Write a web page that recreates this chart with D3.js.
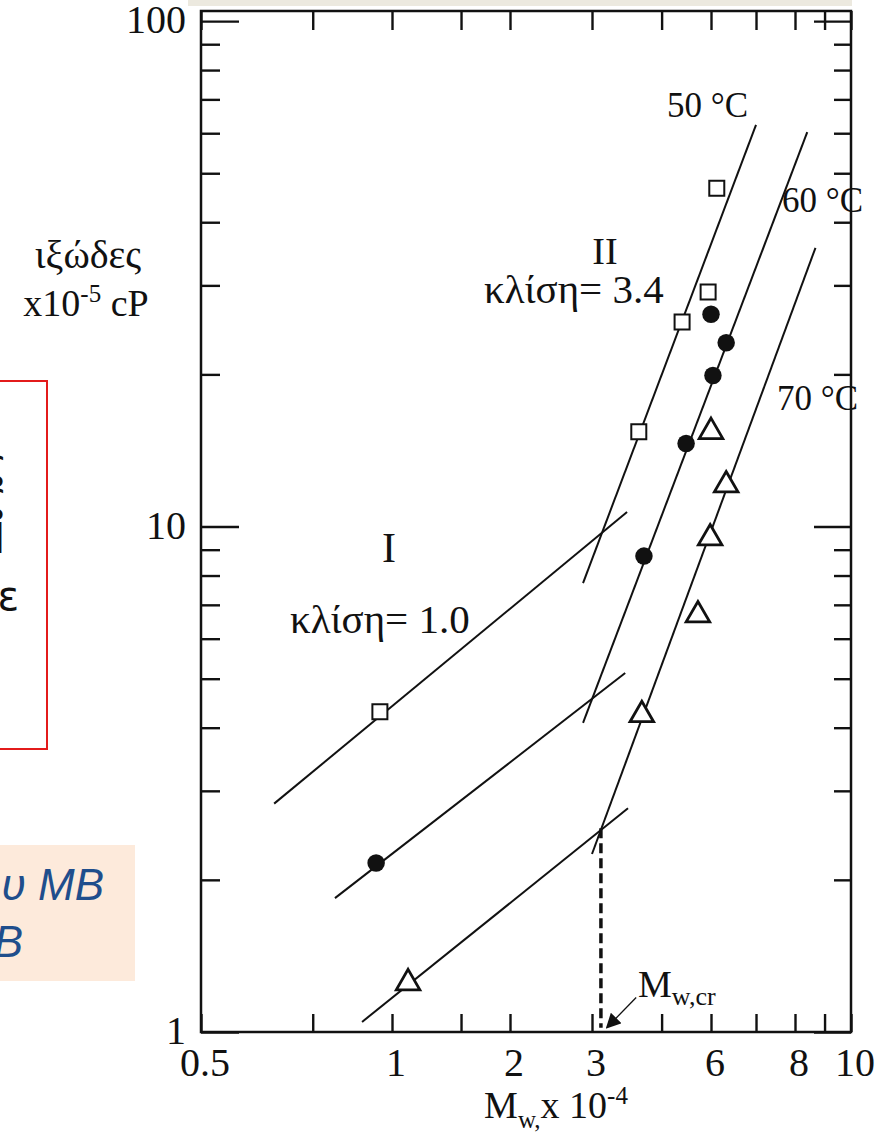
<!DOCTYPE html>
<html>
<head>
<meta charset="utf-8">
<script src="https://cdn.jsdelivr.net/npm/d3@7"></script>
<style>
body { margin: 0; background: #fff; }
svg { display: block; }
.serif { font-family: "Liberation Serif", "Times New Roman", serif; fill: #111; }
</style>
</head>
<body>
<svg id="vis" width="885" height="1138"></svg>
<script>
const svg = d3.select('#vis');

// axes (Mw x 10^-4 on x, viscosity x 10^-5 cP on y)
const xTickValues = [0.5, 1, 2, 3, 6, 8, 10];
const xMinorValues = [0.75, 1.5, 4.5, 7, 9];
const yTickValues = [1, 10, 100];
const yMinorValues = [2, 3, 4, 5, 6, 7, 8, 9, 20, 30, 40, 50, 60, 70, 80, 90];

// measured points
const mw50 = [0.957, 3.94, 5.07, 5.90, 6.12];
const eta50 = [4.30, 15.4, 25.4, 29.1, 46.7];
const mw60 = [0.944, 4.06, 5.19, 6.04, 6.32, 6.0];
const eta60 = [2.16, 8.74, 14.6, 19.9, 23.1, 26.3];
const mw70 = [1.099, 4.01, 5.56, 5.97, 6.32, 6.0];
const eta70 = [1.25, 4.24, 6.68, 9.49, 12.08, 15.4];

// fitted lines, regime I (slope 1.0) and II (slope 3.4)
const regimeI50 = [[0.652, 2.83], [3.68, 10.68]];
const regimeII50 = [[2.87, 7.73], [7.00, 62.3]];
const regimeI60 = [[0.813, 1.84], [3.64, 5.13]];
const regimeII60 = [[2.87, 4.09], [8.40, 60.3]];
const regimeI70 = [[0.897, 1.047], [3.70, 2.77]];
const regimeII70 = [[3.0, 2.25], [8.68, 35.6]];

// critical molecular weight marker
const mwCritical = 3.16;
const etaCritical = [2.53, 1.02];
const mwArrow = [[3.88, 1.17], [3.27, 1.02]];

// the scanned x axis is not evenly spaced, so the log scale is piecewise
// between the labelled ticks
const xPx = [201, 392, 510, 592, 711, 795, 851];
const x = d3.scaleLog().domain(xTickValues).range(xPx);
const y = d3.scaleLog().domain([1, 104.7]).range([1032, 11]);

const plotLeft = 201, plotRight = 851, plotTop = 11, plotBottom = 1032;

// slide leftovers around the figure
svg.append('rect')
    .attr('x', 188).attr('y', 0).attr('width', 664).attr('height', 6)
    .attr('fill', '#ece9df');

svg.append('rect')
    .attr('x', -2).attr('y', 381).attr('width', 49).attr('height', 368)
    .attr('fill', 'none').attr('stroke', '#e31b1b').attr('stroke-width', 2);

const redText = [['ς', 7, 478], ['ς', 7, 511], ['l', 5, 553], ['ε', 19, 610]];
svg.selectAll('.redtext')
    .data(redText)
    .enter().append('text')
    .attr('class', 'redtext')
    .attr('x', function (d) { return d[1]; })
    .attr('y', function (d) { return d[2]; })
    .attr('text-anchor', 'end')
    .attr('font-family', '"DejaVu Sans", sans-serif')
    .attr('font-size', 40)
    .attr('fill', '#111')
    .text(function (d) { return d[0]; });

svg.append('rect')
    .attr('x', 0).attr('y', 845).attr('width', 135).attr('height', 136)
    .attr('fill', '#fdeadb');

svg.append('text')
    .attr('x', 104).attr('y', 900)
    .attr('text-anchor', 'end')
    .attr('font-family', '"Liberation Sans", Arial, sans-serif')
    .attr('font-style', 'italic')
    .attr('font-size', 44)
    .attr('fill', '#1f4e8c')
    .text('υ MB');

svg.append('text')
    .attr('x', 23).attr('y', 957)
    .attr('text-anchor', 'end')
    .attr('font-family', '"Liberation Sans", Arial, sans-serif')
    .attr('font-style', 'italic')
    .attr('font-size', 44)
    .attr('fill', '#1f4e8c')
    .text('B');

// frame
svg.append('rect')
    .attr('x', plotLeft).attr('y', plotTop)
    .attr('width', plotRight - plotLeft).attr('height', plotBottom - plotTop)
    .attr('fill', 'none').attr('stroke', '#111').attr('stroke-width', 2.5);

// inward ticks on all four sides
function ticks(axis, transform, values, size) {
    const g = svg.append('g')
        .attr('transform', transform)
        .call(axis.tickValues(values).tickSize(size).tickSizeOuter(0).tickFormat(''));
    g.select('.domain').remove();
    g.selectAll('line').attr('stroke', '#111').attr('stroke-width', 2.4);
    return g;
}

ticks(d3.axisBottom(x), 'translate(0,' + plotBottom + ')', xTickValues.concat(xMinorValues), -18);
ticks(d3.axisTop(x), 'translate(0,' + plotTop + ')', xTickValues.concat(xMinorValues), -19);
ticks(d3.axisLeft(y), 'translate(' + plotLeft + ',0)', yMinorValues, -19);
ticks(d3.axisLeft(y), 'translate(' + plotLeft + ',0)', yTickValues, -38);
ticks(d3.axisRight(y), 'translate(' + plotRight + ',0)', yMinorValues, -17);
ticks(d3.axisRight(y), 'translate(' + plotRight + ',0)', yTickValues, -37);

// tick labels
svg.selectAll('.xlabel')
    .data(xTickValues)
    .enter().append('text')
    .attr('class', 'serif')
    .attr('x', function (d) { return x(d) + 4; })
    .attr('y', 1076)
    .attr('text-anchor', 'middle')
    .attr('font-size', 40)
    .text(function (d) { return d; });

svg.selectAll('.ylabel')
    .data(yTickValues)
    .enter().append('text')
    .attr('class', 'serif')
    .attr('x', 186)
    .attr('y', function (d) { return y(d) + 12; })
    .attr('text-anchor', 'end')
    .attr('font-size', 40)
    .text(function (d) { return d; });

// axis titles
svg.append('text')
    .attr('class', 'serif')
    .attr('x', 88).attr('y', 268)
    .attr('text-anchor', 'middle')
    .attr('font-size', 40)
    .text('ιξώδες');

const yTitle = svg.append('text')
    .attr('class', 'serif')
    .attr('x', 86).attr('y', 316)
    .attr('text-anchor', 'middle')
    .attr('font-size', 38);
yTitle.append('tspan').text('x10');
yTitle.append('tspan').attr('font-size', 25).attr('dy', -14).text('-5');
yTitle.append('tspan').attr('dy', 14).text(' cP');

const xTitle = svg.append('text')
    .attr('class', 'serif')
    .attr('x', 556).attr('y', 1118)
    .attr('text-anchor', 'middle')
    .attr('font-size', 38);
xTitle.append('tspan').text('M');
xTitle.append('tspan').attr('font-size', 25).attr('dy', 10).text('w,');
xTitle.append('tspan').attr('dy', -10).text('x 10');
xTitle.append('tspan').attr('font-size', 25).attr('dy', -14).text('-4');

// fitted lines
const lineGen = d3.line()
    .x(function (d) { return x(d[0]); })
    .y(function (d) { return y(d[1]); });

const fits = [regimeI50, regimeII50, regimeI60, regimeII60, regimeI70, regimeII70];
svg.append('g').selectAll('path')
    .data(fits)
    .enter().append('path')
    .attr('d', lineGen)
    .attr('fill', 'none')
    .attr('stroke', '#111')
    .attr('stroke-width', 2);

// Mw,cr dashed drop line and arrow
svg.append('line')
    .attr('x1', x(mwCritical)).attr('y1', y(etaCritical[0]))
    .attr('x2', x(mwCritical)).attr('y2', y(etaCritical[1]))
    .attr('stroke', '#111').attr('stroke-width', 3.5)
    .attr('stroke-dasharray', '10,5');

svg.append('defs').append('marker')
    .attr('id', 'head')
    .attr('viewBox', '0 0 10 10')
    .attr('refX', 9).attr('refY', 5)
    .attr('markerWidth', 15).attr('markerHeight', 15)
    .attr('markerUnits', 'userSpaceOnUse')
    .attr('orient', 'auto')
    .append('path')
    .attr('d', 'M0,0L10,5L0,10z')
    .attr('fill', '#111');

svg.append('path')
    .attr('d', lineGen(mwArrow))
    .attr('stroke', '#111').attr('stroke-width', 1.3)
    .attr('marker-end', 'url(#head)');

const crLabel = svg.append('text')
    .attr('class', 'serif')
    .attr('x', 638).attr('y', 997)
    .attr('font-size', 38);
crLabel.append('tspan').text('M');
crLabel.append('tspan').attr('font-size', 26).attr('dy', 8).text('w,cr');

// data points
const series = [
    {mw: mw50, eta: eta50, symbol: d3.symbolSquare, size: 225, fill: '#fff', width: 2},
    {mw: mw60, eta: eta60, symbol: d3.symbolCircle, size: 240, fill: '#111', width: 0},
    {mw: mw70, eta: eta70, symbol: d3.symbolTriangle, size: 240, fill: '#fff', width: 2.8}
];

series.forEach(function (s) {
    svg.append('g').selectAll('path')
        .data(d3.zip(s.mw, s.eta))
        .enter().append('path')
        .attr('transform', function (d) {
            return 'translate(' + x(d[0]) + ',' + y(d[1]) + ')';
        })
        .attr('d', d3.symbol(s.symbol, s.size))
        .attr('fill', s.fill)
        .attr('stroke', '#111')
        .attr('stroke-width', s.width);
});

// annotations
const notes = [
    ['50 °C', 667, 117, 35, 'start'],
    ['60 °C', 782, 212, 35, 'start'],
    ['70 °C', 777, 410, 35, 'start'],
    ['II', 605, 264, 38, 'middle'],
    ['κλίση= 3.4', 484, 303, 41, 'start'],
    ['I', 389, 562, 42, 'middle'],
    ['κλίση= 1.0', 290, 633, 41, 'start']
];
svg.selectAll('.note')
    .data(notes)
    .enter().append('text')
    .attr('class', 'serif note')
    .attr('x', function (d) { return d[1]; })
    .attr('y', function (d) { return d[2]; })
    .attr('font-size', function (d) { return d[3]; })
    .attr('text-anchor', function (d) { return d[4]; })
    .text(function (d) { return d[0]; });
</script>
</body>
</html>
